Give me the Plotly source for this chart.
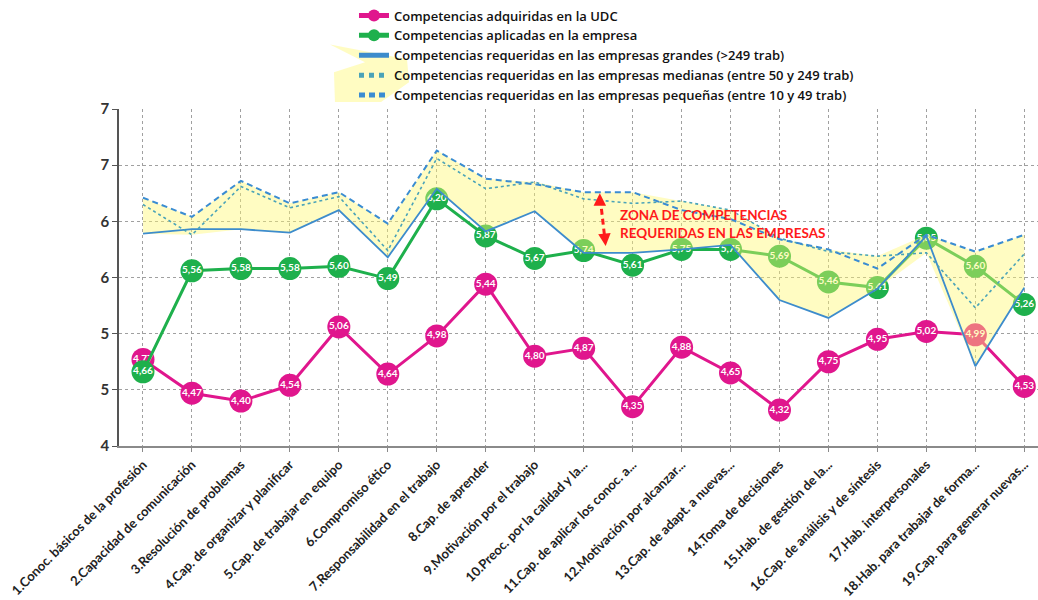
import plotly.graph_objects as go

# Competencias (eje de categorías)
categorias = [
    "1.Conoc. básicos de la profesión",
    "2.Capacidad de comunicación",
    "3.Resolución de problemas",
    "4.Cap. de organizar y planificar",
    "5.Cap. de trabajar en equipo",
    "6.Compromiso ético",
    "7.Responsabilidad en el trabajo",
    "8.Cap. de aprender",
    "9.Motivación por el trabajo",
    "10.Preoc. por la calidad y la...",
    "11.Cap. de aplicar los conoc. a...",
    "12.Motivación por alcanzar...",
    "13.Cap. de adapt. a nuevas...",
    "14.Toma de decisiones",
    "15.Hab. de gestión de la...",
    "16.Cap. de análisis y de síntesis",
    "17.Hab. interpersonales",
    "18.Hab. para trabajar de forma...",
    "19.Cap. para generar nuevas...",
]

adquiridas_udc = [4.77, 4.47, 4.40, 4.54, 5.06, 4.64, 4.98, 5.44, 4.80, 4.87,
                  4.35, 4.88, 4.65, 4.32, 4.75, 4.95, 5.02, 4.99, 4.53]
aplicadas_empresa = [4.66, 5.56, 5.58, 5.58, 5.60, 5.49, 6.20, 5.87, 5.67, 5.74,
                     5.61, 5.75, 5.75, 5.69, 5.46, 5.41, 5.85, 5.60, 5.26]
req_grandes = [5.89, 5.93, 5.93, 5.90, 6.10, 5.68, 6.29, 5.91, 6.09, 5.72,
               5.72, 5.75, 5.79, 5.30, 5.14, 5.40, 5.87, 4.71, 5.41]
req_medianas = [6.15, 5.88, 6.31, 6.12, 6.22, 5.74, 6.56, 6.29, 6.35, 6.20,
                6.16, 6.18, 6.10, 5.85, 5.73, 5.69, 5.72, 5.23, 5.71]
req_pequenas = [6.21, 6.04, 6.36, 6.16, 6.26, 5.98, 6.63, 6.38, 6.33, 6.26,
                6.26, 6.10, 6.02, 5.84, 5.75, 5.58, 5.88, 5.73, 5.88]

y_ticks = [4, 4.5, 5, 5.5, 6, 6.5, 7]
y_tick_text = ["4", "5", "5", "6", "6", "7", "7"]

FONT = "Lato"
LEGEND_FONT = "Open Sans"
MAGENTA = "#e0168d"
VERDE = "#1eb04c"
AZUL = "#3a8cd2"

x = list(range(len(categorias)))


def etiqueta(v):
    return f"{v:.2f}".replace(".", ",")


fig = go.Figure()

# Serie UDC
fig.add_trace(go.Scatter(
    x=x, y=adquiridas_udc, mode="lines+markers",
    name="Competencias adquiridas en la UDC",
    line=dict(color=MAGENTA, width=3),
    marker=dict(size=23, color=MAGENTA),
))
fig.add_trace(go.Scatter(
    x=x, y=adquiridas_udc, mode="text", showlegend=False, hoverinfo="skip",
    text=[etiqueta(v) for v in adquiridas_udc], textposition="middle center",
    textfont=dict(family=FONT, size=10, color="white", weight="bold"),
))

# Serie empresa
fig.add_trace(go.Scatter(
    x=x, y=aplicadas_empresa, mode="lines+markers",
    name="Competencias aplicadas en la empresa",
    line=dict(color=VERDE, width=3),
    marker=dict(size=23, color=VERDE),
))
fig.add_trace(go.Scatter(
    x=x, y=aplicadas_empresa, mode="text", showlegend=False, hoverinfo="skip",
    text=[etiqueta(v) for v in aplicadas_empresa], textposition="middle center",
    textfont=dict(family=FONT, size=10, color="white", weight="bold"),
))

# Zona de competencias requeridas: envolvente de las tres series
requeridas = [req_grandes, req_medianas, req_pequenas]
superior = [max(s[i] for s in requeridas) for i in x]
inferior = [min(s[i] for s in requeridas) for i in x]
fig.add_trace(go.Scatter(
    x=x + x[::-1], y=superior + inferior[::-1], mode="lines",
    fill="toself", fillcolor="rgba(255,247,110,0.42)",
    line=dict(width=0), showlegend=False, hoverinfo="skip",
))

fig.add_trace(go.Scatter(
    x=x, y=req_grandes, mode="lines",
    name="Competencias requeridas en las empresas grandes (>249 trab)",
    line=dict(color="#3d8ccc", width=1.8),
))
fig.add_trace(go.Scatter(
    x=x, y=req_medianas, mode="lines",
    name="Competencias requeridas en las empresas medianas (entre 50 y 249 trab)",
    line=dict(color="#4aa3b8", width=1.6, dash="dot"),
))
fig.add_trace(go.Scatter(
    x=x, y=req_pequenas, mode="lines",
    name="Competencias requeridas en las empresas pequeñas (entre 10 y 49 trab)",
    line=dict(color=AZUL, width=2, dash="6px,4px"),
))

# Flecha discontinua que señala la zona
fig.add_shape(type="line", x0=9.34, y0=6.20, x1=9.44, y1=5.82,
              line=dict(color="#ff1a1a", width=3, dash="6px,4px"))
fig.add_annotation(x=9.33, y=6.25, ax=0, ay=10, text="", showarrow=True,
                   arrowhead=2, arrowsize=1, arrowwidth=2.5, arrowcolor="#ff1a1a")
fig.add_annotation(x=9.45, y=5.78, ax=-1, ay=-10, text="", showarrow=True,
                   arrowhead=2, arrowsize=1, arrowwidth=2.5, arrowcolor="#ff1a1a")
fig.add_annotation(
    x=9.71, y=5.98, xanchor="left", yanchor="middle", align="left",
    text="ZONA DE COMPETENCIAS<br>REQUERIDAS EN LAS EMPRESAS",
    showarrow=False,
    font=dict(family=FONT, size=13.5, color="#ff1a1a", weight="bold"),
)

# Mancha amarilla junto a la leyenda
fig.add_shape(
    type="path", xref="paper", yref="paper", layer="below",
    path="M 0.2296 1.1917 L 0.3134 1.1475 L 0.3156 1.0796 L 0.2851 1.0206 "
         "L 0.2350 1.0206 L 0.2339 1.1091 L 0.2677 1.1386 Z",
    fillcolor="rgba(255,247,110,0.42)", line=dict(width=0),
)

fig.update_layout(
    width=1038, height=600,
    margin=dict(l=119, r=0, t=107, b=154),
    paper_bgcolor="white", plot_bgcolor="white",
    font=dict(family=FONT, color="#222"),
    showlegend=True,
    legend=dict(
        x=0.2557, y=1.322, xanchor="left", yanchor="top",
        bgcolor="rgba(0,0,0,0)",
        font=dict(family=LEGEND_FONT, size=13, color="#111", weight=600),
        tracegroupgap=0, itemsizing="constant",
    ),
    xaxis=dict(
        range=[-0.49, 18.28], tickmode="array", tickvals=x, ticktext=categorias,
        tickangle=-45, tickfont=dict(family=FONT, size=13, color="#222", weight="bold"),
        showgrid=True, gridcolor="#a0a0a0", griddash="3px,3px", gridwidth=1,
        showline=True, linecolor="#8a8a8a", linewidth=2,
        ticks="outside", ticklen=4, tickcolor="#8a8a8a", zeroline=False,
    ),
    yaxis=dict(
        range=[4, 7], tickmode="array", tickvals=y_ticks, ticktext=y_tick_text,
        tickfont=dict(family=FONT, size=15, color="#333", weight="bold"),
        showgrid=True, gridcolor="#a0a0a0", griddash="3px,3px", gridwidth=1,
        showline=True, linecolor="#555", linewidth=1.5,
        ticks="outside", ticklen=5, tickcolor="#555", zeroline=False,
    ),
)

fig.write_html("out.html")
